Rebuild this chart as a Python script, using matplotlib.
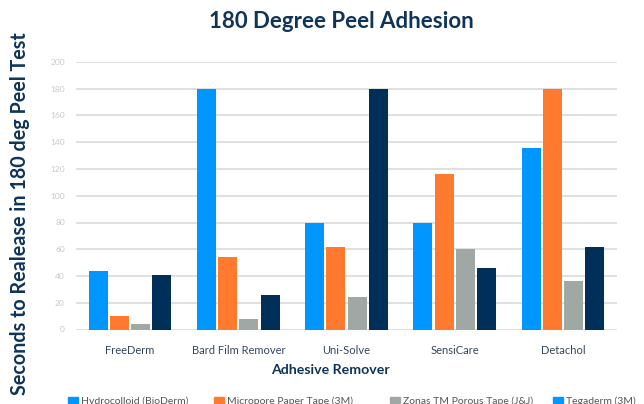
import matplotlib
matplotlib.use("Agg")
import matplotlib.pyplot as plt
import numpy as np
from matplotlib.patches import Rectangle

categories = ["FreeDerm", "Bard Film Remover", "Uni-Solve", "SensiCare", "Detachol"]
series_names = ["Hydrocolloid (BioDerm)", "Micropore Paper Tape (3M)",
                "Zonas TM Porous Tape (J&J)", "Tegaderm (3M)"]
hydrocolloid = [44, 180, 80, 80, 136]
micropore = [10, 54, 62, 116, 180]
zonas = [4, 8, 24, 60, 36]
tegaderm = [41, 26, 180, 46, 62]
yticks = [0, 20, 40, 60, 80, 100, 120, 140, 160, 180, 200]

values = [hydrocolloid, micropore, zonas, tegaderm]
colors = ["#0096FF", "#FF7A2F", "#A0A8A6", "#00305A"]
legend_colors = ["#0096FF", "#FF7A2F", "#A0A8A6", "#0096FF"]

navy = "#0E3459"
font = "Lato"

fig = plt.figure(figsize=(6.44, 4.04), dpi=100)
ax = fig.add_axes([76/644, 1-329.5/404, (617-76)/644, (329.5-62)/404])

x = np.arange(len(categories))
bw = 0.176
step = 0.196
for i, (vals, c) in enumerate(zip(values, colors)):
    ax.bar(x + (i - 1.5) * step, vals, width=bw, color=c, zorder=3)

ax.set_xlim(-0.5, len(categories) - 0.5)
ax.set_ylim(0, 200)
ax.set_yticks(yticks)
ax.set_yticklabels([str(v) for v in yticks], fontsize=6, color="#C8C8C8", family=font)
ax.set_xticks(x)
ax.set_xticklabels(categories, fontsize=8, color="#34475B", family=font)
ax.tick_params(axis="both", length=0)
ax.tick_params(axis="y", pad=8)
ax.tick_params(axis="x", pad=11)
ax.grid(axis="y", color="#DDDDDD", linewidth=1.3, zorder=0)
for s in ax.spines.values():
    s.set_visible(False)

fig.text(341.5/644, 1-28/404, "180 Degree Peel Adhesion", ha="center", va="baseline",
         fontsize=16, fontweight="bold", color=navy, family=font)
fig.text(330/644, 1-374/404, "Adhesive Remover", ha="center", va="baseline",
         fontsize=10.2, fontweight="bold", color=navy, family=font)
fig.text(20/644, 1-214/404, "Seconds to Realease in 180 deg Peel Test", ha="center",
         va="center", rotation=90, fontsize=14.2, fontweight="bold", color=navy, family=font)

leg_x = [68, 214, 390, 553]
for lx, name, c in zip(leg_x, series_names, legend_colors):
    fig.patches.append(Rectangle((lx/644, 1-404/404 + 1/404), 10/644, 6/404,
                                 transform=fig.transFigure, color=c, figure=fig))
    fig.text((lx + 13)/644, 1-401/404, name, ha="left", va="center",
             fontsize=7.5, color="#555555", family=font)

fig.savefig("out.png", dpi=100)
